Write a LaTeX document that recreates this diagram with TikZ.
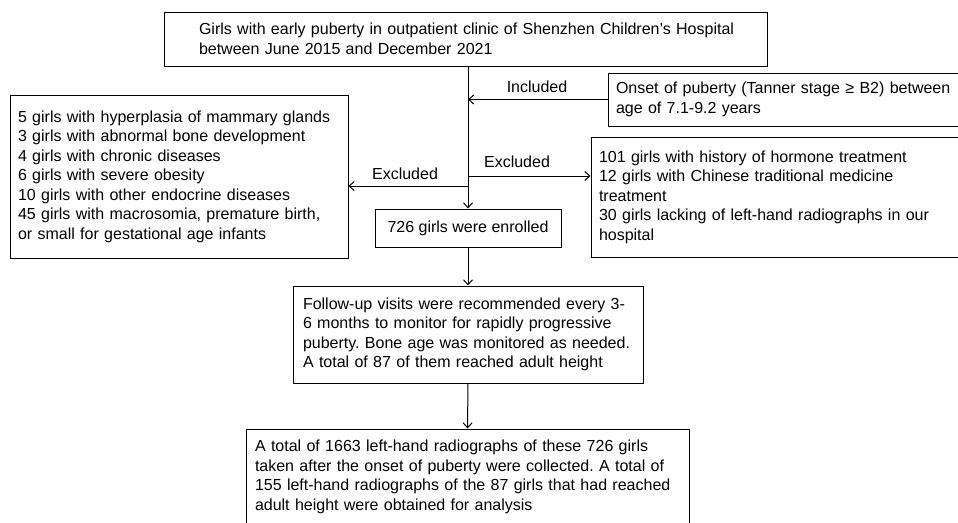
\documentclass[tikz,border=0pt]{standalone}
\usepackage{fontspec}
\setmainfont{Liberation Sans}
\usepackage{tikz}
\usetikzlibrary{positioning,arrows.meta}
\frenchspacing
\hfuzz=20pt

\begin{document}
\begin{tikzpicture}[x=1pt,y=-1pt,
  txt/.style={font=\fontsize{16}{19.5}\selectfont},
  box/.style={txt,draw,line width=1pt,align=left,inner ysep=0pt},
  arr/.style={line width=1pt,-{Straight Barb[length=5pt,width=9pt]}}]
\useasboundingbox (0,0) rectangle (958,522);
\node [box,inner xsep=35pt,text width=533pt,minimum height=54pt] (start) at (465.5,39)
  {\mbox{Girls with early puberty in outpatient clinic of Shenzhen Children’s Hospital}\\between June 2015 and December 2021};
\node [box,inner xsep=8pt,text width=351pt,minimum height=53pt] (onset) at (791.5,99.5)
  {Onset of puberty (Tanner stage ≥ B2) between\\age of 7.1-9.2 years};
\node [box,inner xsep=8pt,text width=322pt,minimum height=163pt] (exleft) at (179,176.5)
  {5 girls with hyperplasia of mammary glands\\3 girls with abnormal bone development\\4 girls with chronic diseases\\6 girls with severe obesity\\10 girls with other endocrine diseases\\45 girls with macrosomia, premature birth,\\or small for gestational age infants};
\node [box,inner xsep=8pt,text width=368pt,minimum height=120pt] (exright) at (783,197)
  {101 girls with history of hormone treatment\\12 girls with Chinese traditional medicine\\treatment\\30 girls lacking of left-hand radiographs in our\\hospital};
\node [box,align=center,minimum width=186pt,minimum height=38pt] (enrol) at (468,228)
  {726 girls were enrolled};
\node [box,inner xsep=10pt,text width=330pt,minimum height=97pt] (follow) at (468,334.5)
  {Follow-up visits were recommended every 3-\\6 months to monitor for rapidly progressive\\puberty. Bone age was monitored as needed.\\A total of 87 of them reached adult height};
\node [box,inner xsep=9pt,text width=425pt,minimum height=96pt] (radio) at (467.5,477)
  {A total of 1663 left-hand radiographs of these 726 girls\\taken after the onset of puberty were collected. A total of\\155 left-hand radiographs of the 87 girls that had reached\\adult height were obtained for analysis};
\coordinate (exl) at (468,186);
\coordinate (exr) at (468,176);
\draw [line width=1pt] (start.south -| enrol.north) -- (exl);
\draw [arr] (exl) -- (enrol.north);
\draw [arr] (onset.west) -- (onset.west -| enrol.north);
\draw [arr] (exl) -- (exl -| exleft.east);
\draw [arr] (exr) -- (exr -| exright.west);
\draw [arr] (enrol.south) -- (follow.north);
\draw [arr] (follow.south) -- (radio.north);
\node [txt] (lblinc) at (537,87) {Included};
\node [txt] (lblexl) at (405,174) {Excluded};
\node [txt] (lblexr) at (517,162) {Excluded};
\end{tikzpicture}
\end{document}
